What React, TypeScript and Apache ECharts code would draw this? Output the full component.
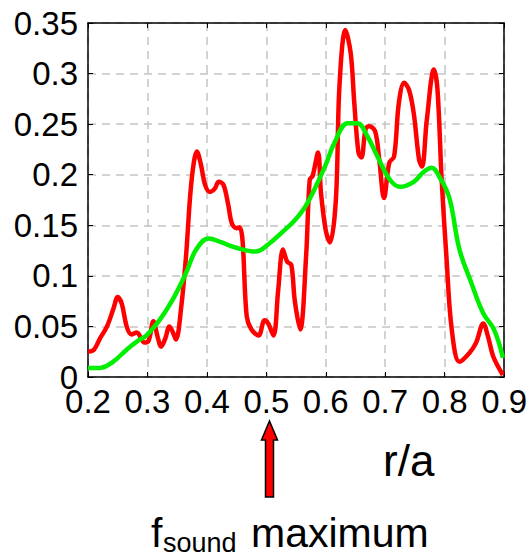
import React, { useEffect, useRef } from "react";
import * as echarts from "echarts";

// radial position r/a and amplitude of the red (measured) profile
const redR = [
  0.2, 0.21, 0.22, 0.232, 0.243, 0.25, 0.257, 0.265, 0.273, 0.282, 0.295, 0.302, 0.31, 0.317,
  0.323, 0.33, 0.337, 0.343, 0.348, 0.357, 0.365, 0.372, 0.378, 0.383, 0.39, 0.397, 0.405,
  0.413, 0.42, 0.428, 0.436, 0.442, 0.45, 0.455, 0.46, 0.467, 0.475, 0.487, 0.497, 0.503,
  0.512, 0.52, 0.528, 0.535, 0.542, 0.548, 0.557, 0.567, 0.573, 0.578, 0.587, 0.592, 0.6,
  0.607, 0.617, 0.623, 0.633, 0.642, 0.648, 0.655, 0.66, 0.667, 0.673, 0.683, 0.69, 0.698,
  0.707, 0.715, 0.723, 0.732, 0.74, 0.748, 0.757, 0.762, 0.77, 0.782, 0.788, 0.795, 0.803,
  0.812, 0.825, 0.842, 0.853, 0.865, 0.873, 0.882, 0.898,
];
const redV = [
  0.025, 0.027, 0.038, 0.05, 0.068, 0.079, 0.072, 0.05, 0.042, 0.044, 0.034, 0.036, 0.055,
  0.04, 0.03, 0.038, 0.05, 0.044, 0.037, 0.07, 0.12, 0.18, 0.212, 0.223, 0.21, 0.19, 0.183,
  0.186, 0.193, 0.19, 0.17, 0.152, 0.147, 0.148, 0.135, 0.06, 0.047, 0.041, 0.056, 0.053,
  0.041, 0.086, 0.126, 0.114, 0.111, 0.075, 0.047, 0.12, 0.195, 0.199, 0.222, 0.182, 0.145,
  0.133, 0.175, 0.287, 0.343, 0.32, 0.271, 0.222, 0.217, 0.245, 0.248, 0.243, 0.215, 0.177,
  0.212, 0.218, 0.271, 0.291, 0.284, 0.261, 0.215, 0.208, 0.254, 0.304, 0.284, 0.195, 0.119,
  0.047, 0.015, 0.024, 0.034, 0.053, 0.04, 0.02, 0.002,
];

// smoothed (green) profile
const greenR = [
  0.2, 0.22, 0.242, 0.265, 0.282, 0.298, 0.32, 0.342, 0.365, 0.382, 0.403, 0.425, 0.448,
  0.482, 0.503, 0.532, 0.548, 0.565, 0.583, 0.6, 0.615, 0.637, 0.653, 0.67, 0.687, 0.708,
  0.725, 0.748, 0.765, 0.778, 0.792, 0.808, 0.825, 0.845, 0.865, 0.883, 0.898,
];
const greenV = [
  0.009, 0.009, 0.015, 0.027, 0.035, 0.041, 0.056, 0.076, 0.103, 0.126, 0.137, 0.133, 0.128,
  0.124, 0.131, 0.146, 0.155, 0.168, 0.188, 0.21, 0.232, 0.251, 0.251, 0.238, 0.218, 0.195,
  0.188, 0.193, 0.203, 0.207, 0.197, 0.177, 0.126, 0.093, 0.063, 0.047, 0.019,
];

const xMin = 0.2;
const xMax = 0.9;
const xStep = 0.1;
const yMin = 0;
const yMax = 0.35;
const yStep = 0.05;

const FONT = "'Liberation Sans', Arial, sans-serif";

const fmt = (v: number) => String(+v.toFixed(2));

export default function App() {
  const ref = useRef<HTMLDivElement>(null);

  useEffect(() => {
    if (!ref.current) return;
    const chart = echarts.init(ref.current, undefined, { renderer: "svg" });

    const redData = redR.map((r, i) => [r, redV[i]]);
    const greenData = greenR.map((r, i) => [r, greenV[i]]);

    const boxLine = { show: true, onZero: false, lineStyle: { color: "#000", width: 1.5 } };
    const innerTick = { show: true, inside: true, length: 5, lineStyle: { color: "#000", width: 1 } };
    const dashGrid = {
      show: true,
      lineStyle: { color: "#c4c4c4", width: 1.5, type: [8, 6] as number[] },
    };

    chart.setOption({
      animation: false,
      backgroundColor: "#fff",
      grid: { left: 88, right: 22, top: 23, bottom: 181 },
      xAxis: [
        {
          type: "value",
          min: xMin,
          max: xMax,
          interval: xStep,
          position: "bottom",
          axisLine: boxLine,
          axisTick: innerTick,
          splitLine: dashGrid,
          axisLabel: {
            color: "#000",
            fontFamily: FONT,
            fontSize: 33,
            margin: 8,
            formatter: fmt,
          },
        },
        {
          type: "value",
          min: xMin,
          max: xMax,
          interval: xStep,
          position: "top",
          axisLine: boxLine,
          axisTick: innerTick,
          splitLine: { show: false },
          axisLabel: { show: false },
        },
      ],
      yAxis: [
        {
          type: "value",
          min: yMin,
          max: yMax,
          interval: yStep,
          position: "left",
          axisLine: boxLine,
          axisTick: innerTick,
          splitLine: dashGrid,
          axisLabel: {
            color: "#000",
            fontFamily: FONT,
            fontSize: 33,
            margin: 10,
            formatter: fmt,
          },
        },
        {
          type: "value",
          min: yMin,
          max: yMax,
          interval: yStep,
          position: "right",
          axisLine: boxLine,
          axisTick: innerTick,
          splitLine: { show: false },
          axisLabel: { show: false },
        },
      ],
      series: [
        {
          type: "line",
          xAxisIndex: 0,
          yAxisIndex: 0,
          data: redData,
          smooth: 0.35,
          showSymbol: false,
          lineStyle: { color: "#ff0000", width: 4.5 },
          z: 3,
        },
        {
          type: "line",
          xAxisIndex: 0,
          yAxisIndex: 0,
          data: greenData,
          smooth: 0.4,
          showSymbol: false,
          lineStyle: { color: "#00ee00", width: 4.5 },
          z: 4,
        },
      ],
      graphic: [
        {
          type: "polygon",
          shape: {
            points: [
              [269.5, 421],
              [277.5, 440],
              [273.5, 440],
              [273.5, 497],
              [265.5, 497],
              [265.5, 440],
              [261.5, 440],
            ],
          },
          style: { fill: "#ff0000", stroke: "#000", lineWidth: 1.5 },
        },
        {
          type: "text",
          x: 383,
          y: 460,
          style: {
            text: "r/a",
            fill: "#000",
            font: `44px ${FONT}`,
            textAlign: "left",
            textVerticalAlign: "middle",
          },
        },
        {
          type: "text",
          x: 151,
          y: 533,
          style: {
            text: "f",
            fill: "#000",
            font: `41px ${FONT}`,
            textAlign: "left",
            textVerticalAlign: "middle",
          },
        },
        {
          type: "text",
          x: 163,
          y: 543,
          style: {
            text: "sound",
            fill: "#000",
            font: `27px ${FONT}`,
            textAlign: "left",
            textVerticalAlign: "middle",
          },
        },
        {
          type: "text",
          x: 251,
          y: 533,
          style: {
            text: "maximum",
            fill: "#000",
            font: `41px ${FONT}`,
            textAlign: "left",
            textVerticalAlign: "middle",
          },
        },
      ],
    });

    return () => chart.dispose();
  }, []);

  return (
    <div
      ref={ref}
      style={{ position: "fixed", left: 0, top: 0, width: 530, height: 558, background: "#fff" }}
    />
  );
}
